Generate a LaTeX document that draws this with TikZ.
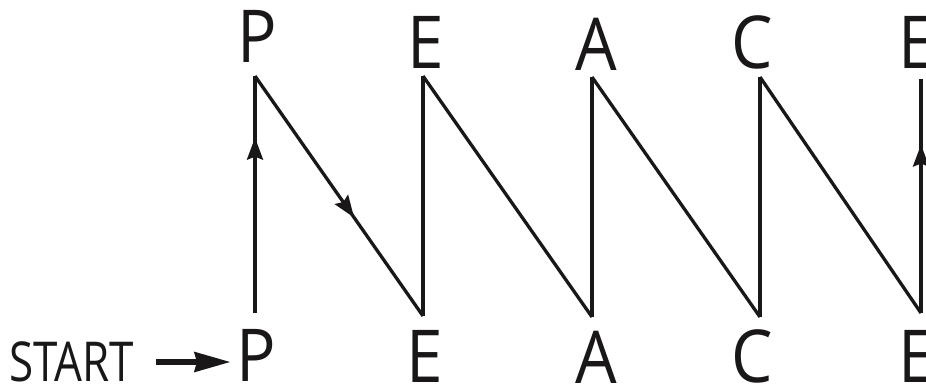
\documentclass[tikz,border=0pt]{standalone}
\usepackage{fontspec}
\setmainfont{Open Sans}
\newfontfamily\letterfont[FakeStretch=0.9]{Open Sans}
\newfontfamily\startfont[FakeStretch=0.8]{Open Sans}
\usetikzlibrary{arrows.meta,decorations.markings}
\definecolor{ink}{HTML}{1A1718}
\begin{document}
\begin{tikzpicture}[x=1pt,y=-1pt,
  letter/.style={anchor=base,inner sep=0pt,text=ink,font=\letterfont\fontsize{73}{73}\selectfont},
  startlabel/.style={anchor=base west,inner sep=0pt,text=ink,font=\startfont\fontsize{55}{55}\selectfont},
  zig/.style={draw=ink,line width=3.3pt,line join=miter},
  midarrow/.style={postaction={decorate},decoration={markings,mark=at position #1 with {\arrow{Stealth[length=22pt,width=16pt,inset=3pt]}}}},
  bigarrow/.style={draw=ink,line width=6.5pt,-{Stealth[length=36pt,width=19pt,inset=2pt]}}
]
\useasboundingbox (0,0) rectangle (926,383);
% top letters
\node[letter] (pt) at (257,62) {P};
\node[letter] (et) at (426,68) {E};
\node[letter] (at) at (596,70) {A};
\node[letter] (ct) at (752,68) {C};
\node[letter] (e2t) at (917,68) {E};
% bottom letters
\node[letter] (pb) at (256,381) {P};
\node[letter] (eb) at (425,382) {E};
\node[letter] (ab) at (596,383) {A};
\node[letter] (cb) at (752,382) {C};
\node[letter] (e2b) at (917,382) {E};
% start
\node[startlabel] (start) at (9,381) {START};
\draw[bigarrow] ([shift={(22,-19)}]start.base east) -- ([shift={(-5,-19)}]pb.base west);
% vertices
\coordinate (v0) at (255,313);
\coordinate (v1) at (255,76);
\coordinate (v2) at (423,316);
\coordinate (v3) at (423,76);
\coordinate (v4) at (592,317);
\coordinate (v5) at (592,77);
\coordinate (v6) at (760,317);
\coordinate (v7) at (760,77);
\coordinate (v8) at (921,313);
\coordinate (v9) at (921,79);
\draw[zig,midarrow=0.74] (v0) -- (v1);
\draw[zig,midarrow=0.59] (v1) -- (v2);
\draw[zig] (v2) -- (v3);
\draw[zig] (v3) -- (v4);
\draw[zig] (v4) -- (v5);
\draw[zig] (v5) -- (v6);
\draw[zig] (v6) -- (v7);
\draw[zig] (v7) -- (v8);
\draw[zig,midarrow=0.72] (v8) -- (v9);
\end{tikzpicture}
\end{document}
